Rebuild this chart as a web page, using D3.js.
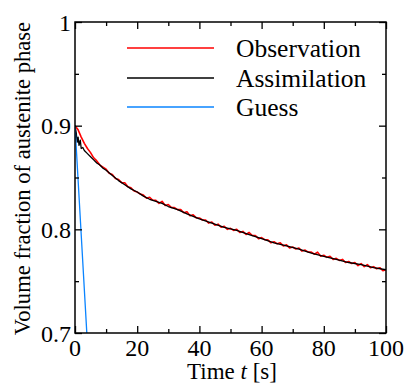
<!DOCTYPE html>
<html>
<head>
<meta charset="utf-8">
<script src="https://cdn.jsdelivr.net/npm/d3@7"></script>
<style>
  body { margin: 0; background: #fff; }
  svg text { font-family: "Liberation Serif", "Times New Roman", "DejaVu Serif", serif; }
</style>
</head>
<body>
<div id="chart"></div>
<script>
// observation, one value per second (t = 0..100)
const obsTime = d3.range(0, 101);
const obsValue = [
  0.900, 0.896, 0.889, 0.883, 0.878, 0.874, 0.869, 0.866, 0.862, 0.860,
  0.858, 0.854, 0.853, 0.849, 0.848, 0.845, 0.845, 0.841, 0.840, 0.837,
  0.836, 0.834, 0.833, 0.830, 0.831, 0.828, 0.828, 0.825, 0.827, 0.823,
  0.824, 0.821, 0.821, 0.819, 0.819, 0.816, 0.817, 0.813, 0.814, 0.811,
  0.811, 0.809, 0.809, 0.806, 0.807, 0.804, 0.805, 0.802, 0.803, 0.800,
  0.801, 0.799, 0.800, 0.797, 0.798, 0.795, 0.797, 0.794, 0.794, 0.791,
  0.792, 0.790, 0.790, 0.787, 0.788, 0.786, 0.787, 0.784, 0.785, 0.782,
  0.783, 0.781, 0.782, 0.779, 0.780, 0.778, 0.778, 0.776, 0.778, 0.774,
  0.775, 0.773, 0.774, 0.771, 0.772, 0.770, 0.771, 0.768, 0.769, 0.767,
  0.768, 0.765, 0.767, 0.764, 0.766, 0.763, 0.764, 0.762, 0.763, 0.760,
  0.761
];

// assimilation result
const asmTime = [0, 0.4, 0.7, 1.0, 1.3, 1.7, 2.0, 2.5, 3, 4, 5, 6, 7, 8, 9, 10,
  12, 14, 16, 18, 20, 22, 24, 26, 28, 30, 33, 36, 40, 44, 48, 52, 56, 60,
  64, 68, 72, 76, 80, 84, 88, 92, 96, 100];
const asmValue = [0.900, 0.893, 0.884, 0.889, 0.881, 0.886, 0.878, 0.879, 0.876,
  0.873, 0.870, 0.867, 0.864, 0.862, 0.859, 0.857, 0.852, 0.847, 0.843, 0.839,
  0.836, 0.832, 0.829, 0.827, 0.825, 0.822, 0.819, 0.815, 0.810, 0.806, 0.802,
  0.799, 0.795, 0.791, 0.787, 0.784, 0.781, 0.777, 0.774, 0.771, 0.768, 0.766,
  0.763, 0.761];

// first guess
const guessTime = [0, 3.8, 6];
const guessValue = [0.900, 0.700, 0.585];

const legendNames = ["Observation", "Assimilation", "Guess"];
const colors = ["#ff0000", "#000000", "#0a84ff"];

const xMajor = [0, 20, 40, 60, 80, 100];
const xMinor = [10, 30, 50, 70, 90];
const yMajor = [0.7, 0.8, 0.9, 1.0];
const yMinor = [0.75, 0.85, 0.95];

const W = 406, H = 383;
const plot = { left: 75, right: 386, top: 22, bottom: 333 };
const FONT = "Liberation Serif, Times New Roman, DejaVu Serif, serif";

const svg = d3.select("#chart").append("svg")
  .attr("width", W).attr("height", H)
  .attr("font-family", FONT);

const x = d3.scaleLinear().domain([0, 100]).range([plot.left, plot.right]);
const y = d3.scaleLinear().domain([0.7, 1.0]).range([plot.bottom, plot.top]);

svg.append("defs").append("clipPath").attr("id", "clip")
  .append("rect")
  .attr("x", plot.left).attr("y", plot.top)
  .attr("width", plot.right - plot.left).attr("height", plot.bottom - plot.top);

const line = d3.line().x(d => x(d[0])).y(d => y(d[1]));

const dataG = svg.append("g").attr("clip-path", "url(#clip)");
const series = [
  d3.zip(obsTime, obsValue),
  d3.zip(asmTime, asmValue),
  d3.zip(guessTime, guessValue)
];
series.forEach((s, i) => {
  dataG.append("path")
    .attr("d", line(s))
    .attr("fill", "none")
    .attr("stroke", colors[i])
    .attr("stroke-width", i === 0 ? 1.6 : 1.3)
    .attr("stroke-linejoin", "round");
});

// frame + inward ticks on all four sides
const axisStyle = g => {
  g.select(".domain").remove();
  g.selectAll("text").remove();
  g.selectAll("line").attr("stroke", "#000").attr("stroke-width", 1.3);
};
const addAxis = (axisFn, scale, ticks, len, tx, ty) => {
  const a = axisFn(scale).tickValues(ticks).tickSize(-len).tickSizeOuter(0);
  svg.append("g").attr("transform", `translate(${tx},${ty})`).call(a).call(axisStyle);
};

addAxis(d3.axisBottom, x, xMajor, 7, 0, plot.bottom);
addAxis(d3.axisBottom, x, xMinor, 4, 0, plot.bottom);
addAxis(d3.axisTop, x, xMajor, 7, 0, plot.top);
addAxis(d3.axisTop, x, xMinor, 4, 0, plot.top);
addAxis(d3.axisLeft, y, yMajor, 7, plot.left, 0);
addAxis(d3.axisLeft, y, yMinor, 4, plot.left, 0);
addAxis(d3.axisRight, y, yMajor, 7, plot.right, 0);
addAxis(d3.axisRight, y, yMinor, 4, plot.right, 0);

svg.append("rect")
  .attr("x", plot.left).attr("y", plot.top)
  .attr("width", plot.right - plot.left).attr("height", plot.bottom - plot.top)
  .attr("fill", "none").attr("stroke", "#000").attr("stroke-width", 1.5);

// tick labels
svg.selectAll(".xlab").data(xMajor).enter().append("text")
  .attr("x", d => x(d)).attr("y", 356)
  .attr("text-anchor", "middle").attr("font-size", 24)
  .text(d => d);

svg.selectAll(".ylab").data(yMajor).enter().append("text")
  .attr("x", 71).attr("y", d => y(d) + 8.5)
  .attr("text-anchor", "end").attr("font-size", 24)
  .text(d => d === 1 ? "1" : d.toFixed(1));

// axis titles
const xt = svg.append("text")
  .attr("x", 232).attr("y", 378.5)
  .attr("text-anchor", "middle").attr("font-size", 23);
xt.append("tspan").text("Time ");
xt.append("tspan").attr("font-style", "italic").text("t");
xt.append("tspan").text(" [s]");

svg.append("text")
  .attr("transform", "translate(30,178.5) rotate(-90)")
  .attr("text-anchor", "middle").attr("font-size", 22.6)
  .text("Volume fraction of austenite phase");

// legend
const legY = [48, 78, 107];
legendNames.forEach((name, i) => {
  svg.append("line")
    .attr("x1", 127).attr("x2", 214)
    .attr("y1", legY[i]).attr("y2", legY[i])
    .attr("stroke", colors[i]).attr("stroke-width", 1.4);
  svg.append("text")
    .attr("x", 236).attr("y", legY[i] + 9)
    .attr("font-size", 25.5)
    .text(name);
});
</script>
</body>
</html>
